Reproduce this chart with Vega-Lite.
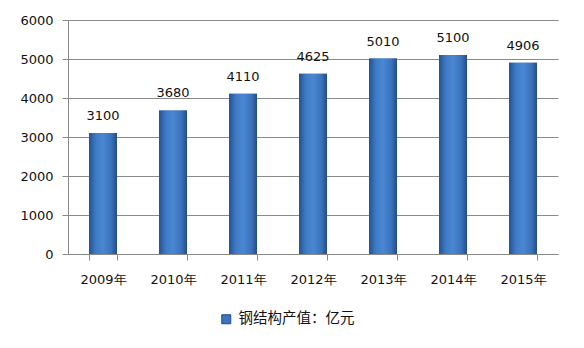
{
  "$schema": "https://vega.github.io/schema/vega-lite/v6.json",
  "width": 490,
  "height": 234,
  "autosize": {"type": "none"},
  "padding": {"left": 68, "top": 20, "right": 26, "bottom": 94},
  "background": "white",
  "data": {"values": [
    {"year": "2009年", "value": 3100, "series": "钢结构产值：亿元"},
    {"year": "2010年", "value": 3680, "series": "钢结构产值：亿元"},
    {"year": "2011年", "value": 4110, "series": "钢结构产值：亿元"},
    {"year": "2012年", "value": 4625, "series": "钢结构产值：亿元"},
    {"year": "2013年", "value": 5010, "series": "钢结构产值：亿元"},
    {"year": "2014年", "value": 5100, "series": "钢结构产值：亿元"},
    {"year": "2015年", "value": 4906, "series": "钢结构产值：亿元"}
  ]},
  "encoding": {
    "x": {"field": "year", "type": "nominal", "sort": null,
      "scale": {"paddingInner": 0.6, "paddingOuter": 0.3},
      "axis": {"title": null, "labelAngle": 0, "labelFont": "DejaVu Sans", "labelFontSize": 13, "labelColor": "#111", "labelPadding": 13, "tickBand": "extent", "tickSize": 6, "tickColor": "#888", "domainColor": "#888", "grid": false}},
    "y": {"field": "value", "type": "quantitative",
      "scale": {"domain": [0, 6000]},
      "axis": {"title": null, "values": [0, 1000, 2000, 3000, 4000, 5000, 6000], "format": "d", "labelFont": "DejaVu Sans", "labelFontSize": 13, "labelColor": "#111", "labelPadding": 9, "tickSize": 6, "tickColor": "#888", "domainColor": "#888", "gridColor": "#8a8a8a", "gridOpacity": 1}}
  },
  "layer": [
    {
      "mark": {"type": "bar"},
      "encoding": {
        "fill": {"field": "series", "type": "nominal",
          "scale": {"range": ["#3c74bf"]},
          "legend": {"title": null, "orient": "none", "legendX": 151, "legendY": 292, "symbolType": "square", "symbolSize": 81, "labelFont": "Noto Sans CJK SC", "labelFontSize": 14.5, "labelColor": "#111", "labelOffset": 5, "symbolStrokeColor": "#1f4a85", "symbolStrokeWidth": 1}}
      }
    },
    {
      "mark": {"type": "bar",
        "color": {"gradient": "linear", "x1": 0, "x2": 1, "y1": 0, "y2": 0,
          "stops": [
            {"offset": 0, "color": "#24528f"},
            {"offset": 0.25, "color": "#3f7bc6"},
            {"offset": 0.5, "color": "#4a87d2"},
            {"offset": 0.8, "color": "#3a72bb"},
            {"offset": 1, "color": "#234c85"}
          ]}}
    },
    {
      "mark": {"type": "text", "dy": -10, "baseline": "bottom", "font": "DejaVu Sans", "fontSize": 13, "color": "#111"},
      "encoding": {"text": {"field": "value", "type": "quantitative", "format": "d"}}
    }
  ],
  "config": {"view": {"stroke": null}}
}
